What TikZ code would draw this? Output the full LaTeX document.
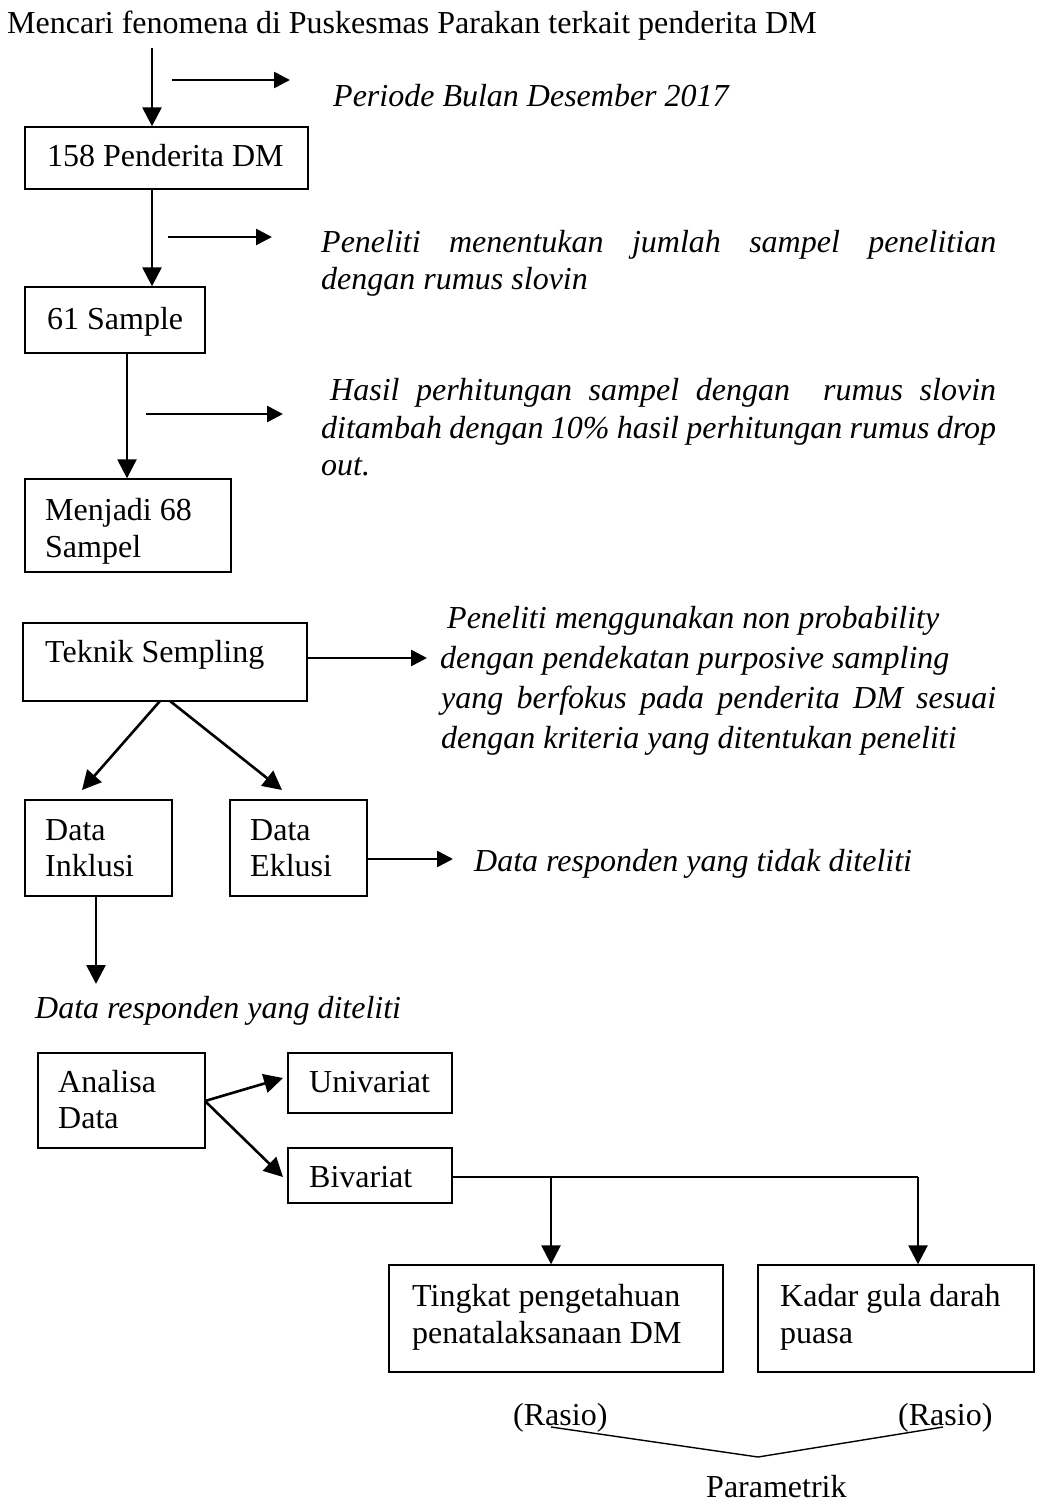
\documentclass[tikz,border=0pt]{standalone}
\usepackage{fontspec}
\setmainfont{Liberation Serif}
\usetikzlibrary{arrows.meta}
\tikzset{
  box/.style={draw, line width=1.4pt, inner sep=0pt, anchor=center},
  txt/.style={inner sep=0pt, anchor=base west, font=\fontsize{32}{37}\selectfont},
  itx/.style={txt, font=\fontsize{32}{37}\selectfont\itshape},
  arr/.style={line width=2.6pt, -{Triangle[length=19pt,width=19pt]}},
  sarr/.style={line width=2.6pt, -{Triangle[length=16pt,width=16pt]}},
  thin/.style={line width=1.4pt},
}
\begin{document}
\begin{tikzpicture}[x=1pt,y=-1pt]
\useasboundingbox (0,0) rectangle (1036,1503);

% title
\node[txt] (title) at (7,34) {Mencari fenomena di Puskesmas Parakan terkait penderita DM};

% box 158
\node[box, minimum width=283, minimum height=62] (b158) at (166.5,158) {};
\node[txt] (t158) at (47,167) {158 Penderita DM};
\coordinate (c1) at (152,48);
\draw[arr] (c1) -- (c1 |- b158.north);
\coordinate (s1a) at (172,80);
\coordinate (s1b) at (290,80);
\draw[sarr] (s1a) -- (s1b);
\node[itx] (tper) at (333,107) {Periode Bulan Desember 2017};

% box 61
\node[box, minimum width=180, minimum height=66] (b61) at (115,320) {};
\node[txt] (t61) at (47,330) {61 Sample};
\draw[arr] (b158.south -| c1) -- (b61.north -| c1);
\coordinate (s2a) at (168,237);
\coordinate (s2b) at (272,237);
\draw[sarr] (s2a) -- (s2b);
\node[itx] (tpen1) at (321,253) {\makebox[675pt][s]{Peneliti menentukan jumlah sampel penelitian}};
\node[itx] (tpen2) at (321,290) {dengan rumus slovin};

% box 68
\node[box, minimum width=206, minimum height=93] (b68) at (128,525.5) {};
\node[txt] (t68a) at (45,520) {Menjadi 68};
\node[txt] (t68b) at (45,557) {Sampel};
\coordinate (c2) at (127,353);
\draw[arr] (c2) -- (c2 |- b68.north);
\coordinate (s3a) at (146,414);
\coordinate (s3b) at (283,414);
\draw[sarr] (s3a) -- (s3b);
\node[itx] (thas1) at (330,400) {\makebox[666pt][s]{Hasil perhitungan sampel dengan \ rumus slovin}};
\node[itx] (thas2) at (321,438) {\makebox[675pt][s]{ditambah dengan 10\% hasil perhitungan rumus drop}};
\node[itx] (thas3) at (321,475) {out.};

% Teknik Sempling
\node[box, minimum width=284, minimum height=78] (btek) at (165,662) {};
\node[txt] (ttek) at (45,662) {Teknik Sempling};
\coordinate (s4a) at (307,658);
\coordinate (s4b) at (427,658);
\draw[sarr] (s4a) -- (s4b);
\node[itx] (tnp1) at (447,628) {Peneliti menggunakan non probability};
\node[itx] (tnp2) at (440,668) {dengan pendekatan purposive sampling};
\node[itx] (tnp3) at (441,708) {\makebox[555pt][s]{yang berfokus pada penderita DM sesuai}};
\node[itx] (tnp4) at (441,748) {dengan kriteria yang ditentukan peneliti};

% Data Inklusi / Eklusi
\node[box, minimum width=147, minimum height=96] (binc) at (98.5,848) {};
\node[txt] (tinc1) at (45,840) {Data};
\node[txt] (tinc2) at (45,876) {Inklusi};
\node[box, minimum width=137, minimum height=96] (bexc) at (298.5,848) {};
\node[txt] (texc1) at (250,840) {Data};
\node[txt] (texc2) at (250,876) {Eklusi};
\coordinate (d1) at (160,701);
\coordinate (d2) at (82,790);
\coordinate (d3) at (170,701);
\coordinate (d4) at (282,790);
\draw[arr] (d1) -- (d2);
\draw[arr] (d3) -- (d4);
\coordinate (s5a) at (367,859);
\coordinate (s5b) at (453,859);
\draw[sarr] (s5a) -- (s5b);
\node[itx] (tnot) at (474,871) {Data responden yang tidak diteliti};
\coordinate (c3) at (96,896);
\coordinate (c3e) at (96,984);
\draw[arr] (c3) -- (c3e);
\node[itx] (tyes) at (35,1018) {Data responden yang diteliti};

% Analisa
\node[box, minimum width=167, minimum height=95] (bana) at (121.5,1100.5) {};
\node[txt] (tana1) at (58,1092) {Analisa};
\node[txt] (tana2) at (58,1128) {Data};
\node[box, minimum width=164, minimum height=60] (buni) at (370,1083) {};
\node[txt] (tuni) at (309,1092) {Univariat};
\node[box, minimum width=164, minimum height=55] (bbiv) at (370,1175.5) {};
\node[txt] (tbiv) at (309,1187) {Bivariat};
\coordinate (a0) at (205,1101);
\coordinate (a1) at (283,1078);
\coordinate (a2) at (283,1177);
\draw[arr] (a0) -- (a1);
\draw[arr] (a0) -- (a2);

% Bivariat branches
\coordinate (bv0) at (452,1177);
\coordinate (bv1) at (551,1177);
\coordinate (bv2) at (918,1177);
\draw[thin] (bv0) -- (bv2);
\node[box, minimum width=334, minimum height=107] (btk) at (556,1318.5) {};
\node[txt] (ttk1) at (412,1306) {Tingkat pengetahuan};
\node[txt] (ttk2) at (412,1343) {penatalaksanaan DM};
\node[box, minimum width=276, minimum height=107] (bkd) at (896,1318.5) {};
\node[txt] (tkd1) at (780,1306) {Kadar gula darah};
\node[txt] (tkd2) at (780,1343) {puasa};
\draw[arr] (bv1) -- (bv1 |- btk.north);
\draw[arr] (bv2) -- (bv2 |- bkd.north);

% Rasio / Parametrik
\node[txt] (r1) at (513,1425) {(Rasio)};
\node[txt] (r2) at (898,1425) {(Rasio)};
\node[txt] (par) at (706,1497) {Parametrik};
\coordinate (v1) at (551,1427);
\coordinate (v2) at (758,1457);
\coordinate (v3) at (943,1427);
\draw[thin] (v1) -- (v2) -- (v3);
\end{tikzpicture}
\end{document}
